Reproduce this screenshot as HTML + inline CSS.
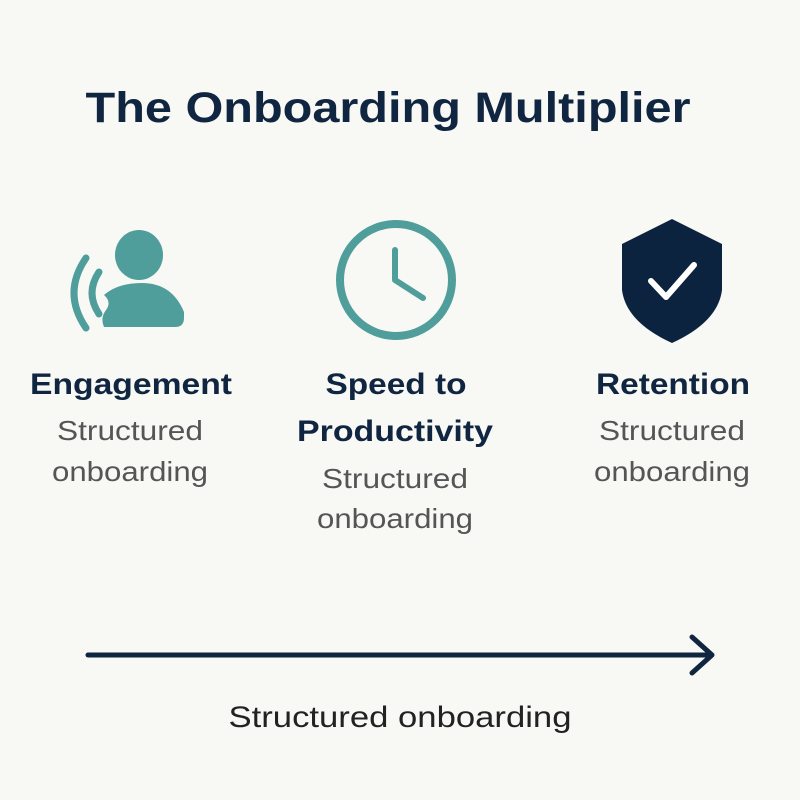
<!DOCTYPE html>
<html><head><style>
body{margin:0;background:#f8f8f5;}
svg{display:block}
</style></head><body>
<svg width="800" height="800" viewBox="0 0 800 800" xmlns="http://www.w3.org/2000/svg">
<rect width="800" height="800" fill="#f8f8f5"/>
<text x="388" y="122" text-anchor="middle" font-family="Liberation Sans, sans-serif" font-weight="bold" font-size="43" fill="#0f2540" textLength="605" lengthAdjust="spacingAndGlyphs">The Onboarding Multiplier</text>
<!-- person -->
<ellipse cx="139" cy="255" rx="24" ry="25" fill="#4f9e9c"/>
<path d="M104,327 Q100,318 106,310 Q112,302 104,295 Q118,283 142,283 Q172,283 184,312 L184,318 Q184,327 175,327 Z" fill="#4f9e9c"/>
<path d="M86,258 Q62,293 86,328" fill="none" stroke="#4f9e9c" stroke-width="7" stroke-linecap="round"/>
<path d="M99,272 Q85,293 99,314" fill="none" stroke="#4f9e9c" stroke-width="7" stroke-linecap="round"/>
<!-- clock -->
<circle cx="396" cy="280" r="56" fill="none" stroke="#4f9e9c" stroke-width="8"/>
<path d="M395,250 L395,280 L423,298" fill="none" stroke="#4f9e9c" stroke-width="6" stroke-linecap="round" stroke-linejoin="round"/>
<!-- shield -->
<path d="M672,219 L722,244 L722,290 Q718,322 672,343 Q626,322 622,290 L622,244 Z" fill="#0c2340"/>
<path d="M651,281 L666,297 L694,265" fill="none" stroke="#fff" stroke-width="6" stroke-linecap="round" stroke-linejoin="round"/>
<g font-family="Liberation Sans, sans-serif" text-anchor="middle" lengthAdjust="spacingAndGlyphs">
<text x="131" y="394" font-weight="bold" font-size="30" fill="#0f2540" textLength="202" lengthAdjust="spacingAndGlyphs">Engagement</text>
<text x="130" y="440" font-size="28" fill="#555" textLength="146" lengthAdjust="spacingAndGlyphs">Structured</text>
<text x="130" y="481" font-size="28" fill="#555" textLength="156" lengthAdjust="spacingAndGlyphs">onboarding</text>
<text x="396" y="394" font-weight="bold" font-size="30" fill="#0f2540" textLength="141" lengthAdjust="spacingAndGlyphs">Speed to</text>
<text x="395" y="441" font-weight="bold" font-size="30" fill="#0f2540" textLength="196" lengthAdjust="spacingAndGlyphs">Productivity</text>
<text x="395" y="488" font-size="28" fill="#555" textLength="146" lengthAdjust="spacingAndGlyphs">Structured</text>
<text x="395" y="528" font-size="28" fill="#555" textLength="156" lengthAdjust="spacingAndGlyphs">onboarding</text>
<text x="673" y="394" font-weight="bold" font-size="30" fill="#0f2540" textLength="154" lengthAdjust="spacingAndGlyphs">Retention</text>
<text x="672" y="440" font-size="28" fill="#555" textLength="146" lengthAdjust="spacingAndGlyphs">Structured</text>
<text x="672" y="481" font-size="28" fill="#555" textLength="156" lengthAdjust="spacingAndGlyphs">onboarding</text>
<text x="400" y="727" font-size="30" fill="#222" textLength="343" lengthAdjust="spacingAndGlyphs">Structured onboarding</text>
</g>
<line x1="88" y1="655" x2="710" y2="655" stroke="#0f2540" stroke-width="5" stroke-linecap="round"/>
<path d="M692,637 L712,655 L692,673" fill="none" stroke="#0f2540" stroke-width="5" stroke-linecap="round" stroke-linejoin="round"/>
</svg>
</body></html>
